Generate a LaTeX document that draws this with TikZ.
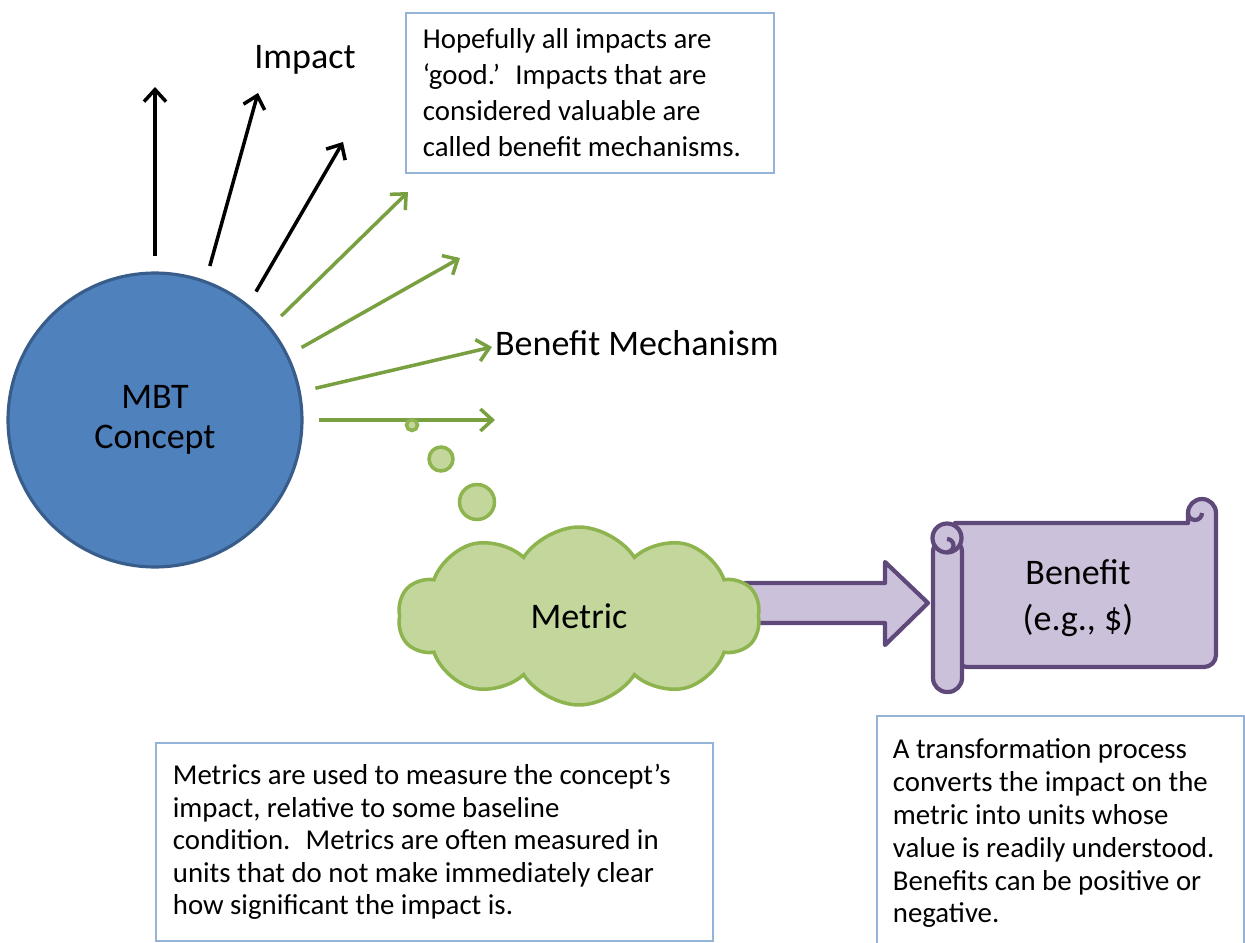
\documentclass[tikz,border=0pt]{standalone}
\usepackage{fontspec}
\setmainfont{Carlito}
\usetikzlibrary{arrows.meta,shapes.symbols,positioning}

\definecolor{conceptblue}{HTML}{4F81BD}
\definecolor{conceptedge}{HTML}{385D8A}
\definecolor{mechgreen}{HTML}{78A040}
\definecolor{cloudfill}{HTML}{C3D69B}
\definecolor{cloudedge}{HTML}{8DB44E}
\definecolor{scrollfill}{HTML}{CCC1DA}
\definecolor{scrolledge}{HTML}{5F497A}
\definecolor{noteedge}{HTML}{95B3D7}

\newcommand{\biglabelfont}{\fontsize{20.5}{23}\selectfont}

\tikzset{
  impact/.style={line width=2pt, -{Straight Barb[length=0.24cm,width=0.44cm]}, shorten <=0.3cm},
  mechanism/.style={impact, draw=mechgreen},
  biglabel/.style={inner sep=1pt, font=\biglabelfont},
  note/.style={draw=noteedge, line width=1pt, inner xsep=0.34cm, align=flush left, anchor=north west, font=\fontsize{16.4}{20.5}\selectfont},
  bubble/.style={circle, draw=cloudedge, fill=cloudfill, line width=2pt, inner sep=0pt},
  scrollpart/.style={draw=scrolledge, fill=scrollfill, line width=2.4pt, line join=round},
}

\begin{document}
\begin{tikzpicture}[x=0.02cm, y=0.02cm]
    \useasboundingbox (0,0) rectangle (1245,-943);

    % concept and its impacts
    \node[circle, draw=conceptedge, fill=conceptblue, line width=1.8pt, minimum size=5.88cm, align=center, font=\biglabelfont] (mbt) at (155,-420) {MBT\\Concept};
    \coordinate (i1) at (155,-87);
    \coordinate (i2) at (258,-93);
    \coordinate (i3) at (343,-142);
    \coordinate (m1) at (408,-192);
    \coordinate (m2) at (460,-258);
    \coordinate (m3) at (492,-347);
    \coordinate (m4) at (495,-420);
    \draw[impact] (mbt.90) -- (i1);
    \draw[impact] (mbt.70) -- (i2);
    \draw[impact] (mbt.51) -- (i3);
    \draw[mechanism] (mbt.39) -- (m1);
    \draw[mechanism] (mbt.26) -- (m2);
    \draw[mechanism] (mbt.11) -- (m3);
    \draw[mechanism] (mbt.0) -- (m4);
    \node[biglabel] (impactlabel) at (305,-60) {Impact};
    \node[biglabel, anchor=west] (mechlabel) at (493,-343) {Benefit Mechanism};

    % notes
    \node[note, text width=6.68cm, minimum height=3.2cm] (hopenote) at (405,-12)
        {Hopefully all impacts are\\‘good.’~ Impacts that are\\considered valuable are\\called benefit mechanisms.};
    \node[note, text width=10.46cm, minimum height=3.96cm, font=\fontsize{16.4}{18.5}\selectfont] (metricnote) at (155,-742)
        {Metrics are used to measure the concept’s\\impact, relative to some baseline\\condition.~ Metrics are often measured in\\units that do not make immediately clear\\how significant the impact is.};
    \node[note, text width=6.70cm, inner xsep=0.32cm, minimum height=4.7cm, font=\fontsize{16.4}{18.7}\selectfont] (benefitnote) at (876,-715)
        {A transformation process\\converts the impact on the\\metric into units whose\\value is readily understood.\\Benefits can be positive or\\negative.};

    % transformation arrow
    \draw[scrollpart, line width=2.4pt] (745,-583) -- (885,-583) -- (885,-562) -- (928,-603) -- (885,-645) -- (885,-623) -- (745,-623) -- cycle;

    % thought bubbles and metric cloud
    \node[bubble, minimum size=0.22cm] (puff1) at (412,-425) {};
    \node[bubble, minimum size=0.48cm] (puff2) at (441,-459) {};
    \node[bubble, minimum size=0.70cm] (puff3) at (477,-502) {};
    \node[cloud, cloud puffs=10, cloud puff arc=115, aspect=2.03, draw=cloudedge, fill=cloudfill, line width=2pt, minimum width=7.24cm, minimum height=3.56cm, font=\biglabelfont] (metric) at (579,-616) {Metric};

    % benefit scroll
    \draw[scrollpart] (955,-523) -- (1188,-523) -- (1188,-513) arc[start angle=180, end angle=0, radius=14]
        [rounded corners=0.24cm] -- (1216,-667) -- (955,-667) [sharp corners] -- cycle;
    \draw[scrolledge, line width=2.4pt] (1202,-513) arc[start angle=0, end angle=-180, radius=7];
    \draw[scrollpart, rounded corners=0.28cm] (947,-538) -- (933,-538) -- (933,-692) -- (962,-692) -- (962,-538) -- cycle;
    \draw[scrollpart] (947,-538) circle[radius=14.5];
    \draw[scrolledge, line width=2.4pt] (947,-552) arc[start angle=-90, end angle=90, radius=6.5];
    \node[align=center, font=\fontsize{20.5}{26.5}\selectfont] (benefit) at (1078,-598) {Benefit\\(e.g., \$)};
\end{tikzpicture}
\end{document}
